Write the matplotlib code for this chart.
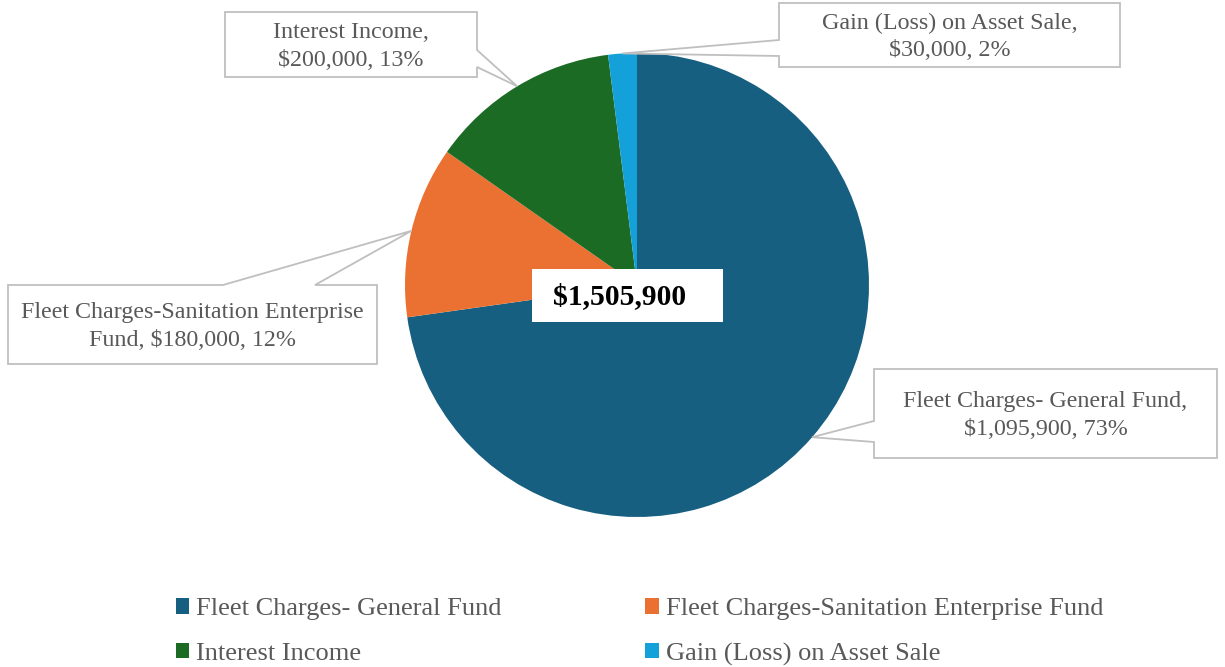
import matplotlib
matplotlib.use("Agg")
import matplotlib.pyplot as plt
from matplotlib.patches import Polygon, Rectangle, Patch
import numpy as np

plt.rcParams['font.family'] = ['Liberation Serif', 'DejaVu Serif']

# data
categories = ["Fleet Charges- General Fund",
              "Fleet Charges-Sanitation Enterprise Fund",
              "Interest Income",
              "Gain (Loss) on Asset Sale"]
amounts = [1095900, 180000, 200000, 30000]
colors = ["#175F80", "#EB7132", "#1C6B25", "#14A0D8"]
label_lines = ["Fleet Charges- General Fund,",
               "Fleet Charges-Sanitation Enterprise\nFund,",
               "Interest Income,",
               "Gain (Loss) on Asset Sale,"]

W, H = 1225, 667
total = sum(amounts)
TXT = "#595959"
EDGE = "#BFBFBF"

fig = plt.figure(figsize=(W / 100, H / 100), dpi=100)

# pie axes, centre (637, 285) px, radius 232 px
cx, cy, r = 637, 285, 232
ax = fig.add_axes([(cx - r) / W, (H - cy - r) / H, 2 * r / W, 2 * r / H])
wedges, _ = ax.pie(amounts, colors=colors, startangle=90, counterclock=False,
                   radius=1, wedgeprops=dict(linewidth=0))
ax.set_xlim(-1, 1)
ax.set_ylim(-1, 1)
ax.set_aspect('equal')
ax.axis('off')

# overlay in pixel coords for callouts
ov = fig.add_axes([0, 0, 1, 1], zorder=5)
ov.set_xlim(0, W)
ov.set_ylim(H, 0)
ov.axis('off')
ov.patch.set_alpha(0)


def tip_of(w):
    a = np.deg2rad((w.theta1 + w.theta2) / 2)
    p = ax.transData.transform((np.cos(a), np.sin(a)))
    return ov.transData.inverted().transform(p)


def callout(box, side, b0, b1, tip):
    x0, y0, x1, y1 = box
    if side == 'right':
        pts = [(x0, y0), (x1, y0), (x1, b0), tip, (x1, b1), (x1, y1), (x0, y1)]
    elif side == 'left':
        pts = [(x0, y0), (x1, y0), (x1, y1), (x0, y1), (x0, b1), tip, (x0, b0)]
    else:
        pts = [(x0, y0), (b0, y0), tip, (b1, y0), (x1, y0), (x1, y1), (x0, y1)]
    ov.add_patch(Polygon(pts, closed=True, facecolor='white', edgecolor=EDGE,
                         linewidth=1.3))


boxes = [((874, 369, 1217, 458), 'left', 421, 442),
         ((8, 285, 377, 364), 'top', 223, 315),
         ((225, 12, 477, 77), 'right', 50, 67),
         ((779, 3, 1120, 67), 'left', 40, 56)]

for i, (box, side, b0, b1) in enumerate(boxes):
    tip = tip_of(wedges[i])
    callout(box, side, b0, b1, tip)
    pct = round(amounts[i] / total * 100)
    txt = label_lines[i] + "\n" if "\n" not in label_lines[i] else label_lines[i] + " "
    txt = f"{txt}\\${amounts[i]:,}, {pct}%"
    ov.text((box[0] + box[2]) / 2, (box[1] + box[3]) / 2 + 2, txt, ha='center',
            va='center', fontsize=17.3, color=TXT, linespacing=1.42)

# total in the middle
ov.add_patch(Rectangle((532, 269), 191, 53, facecolor='white', edgecolor='none'))
ov.text(620, 297, f"\\${total:,}", ha='center', va='center', fontsize=21.3,
        fontweight='bold', color='black')

# legend: row 1 general / sanitation, row 2 interest / gain
order = [0, 2, 1, 3]
handles = [Patch(facecolor=colors[i], edgecolor='none') for i in order]
fig.legend(handles, [categories[i] for i in order], ncol=2, loc='center',
           bbox_to_anchor=(639.5 / W, 1 - 632 / H), frameon=False,
           fontsize=19, labelcolor=TXT, handlelength=0.5, handleheight=0.5,
           handletextpad=0.27, columnspacing=5.45, labelspacing=0.84)

fig.savefig("out.png", dpi=100)
